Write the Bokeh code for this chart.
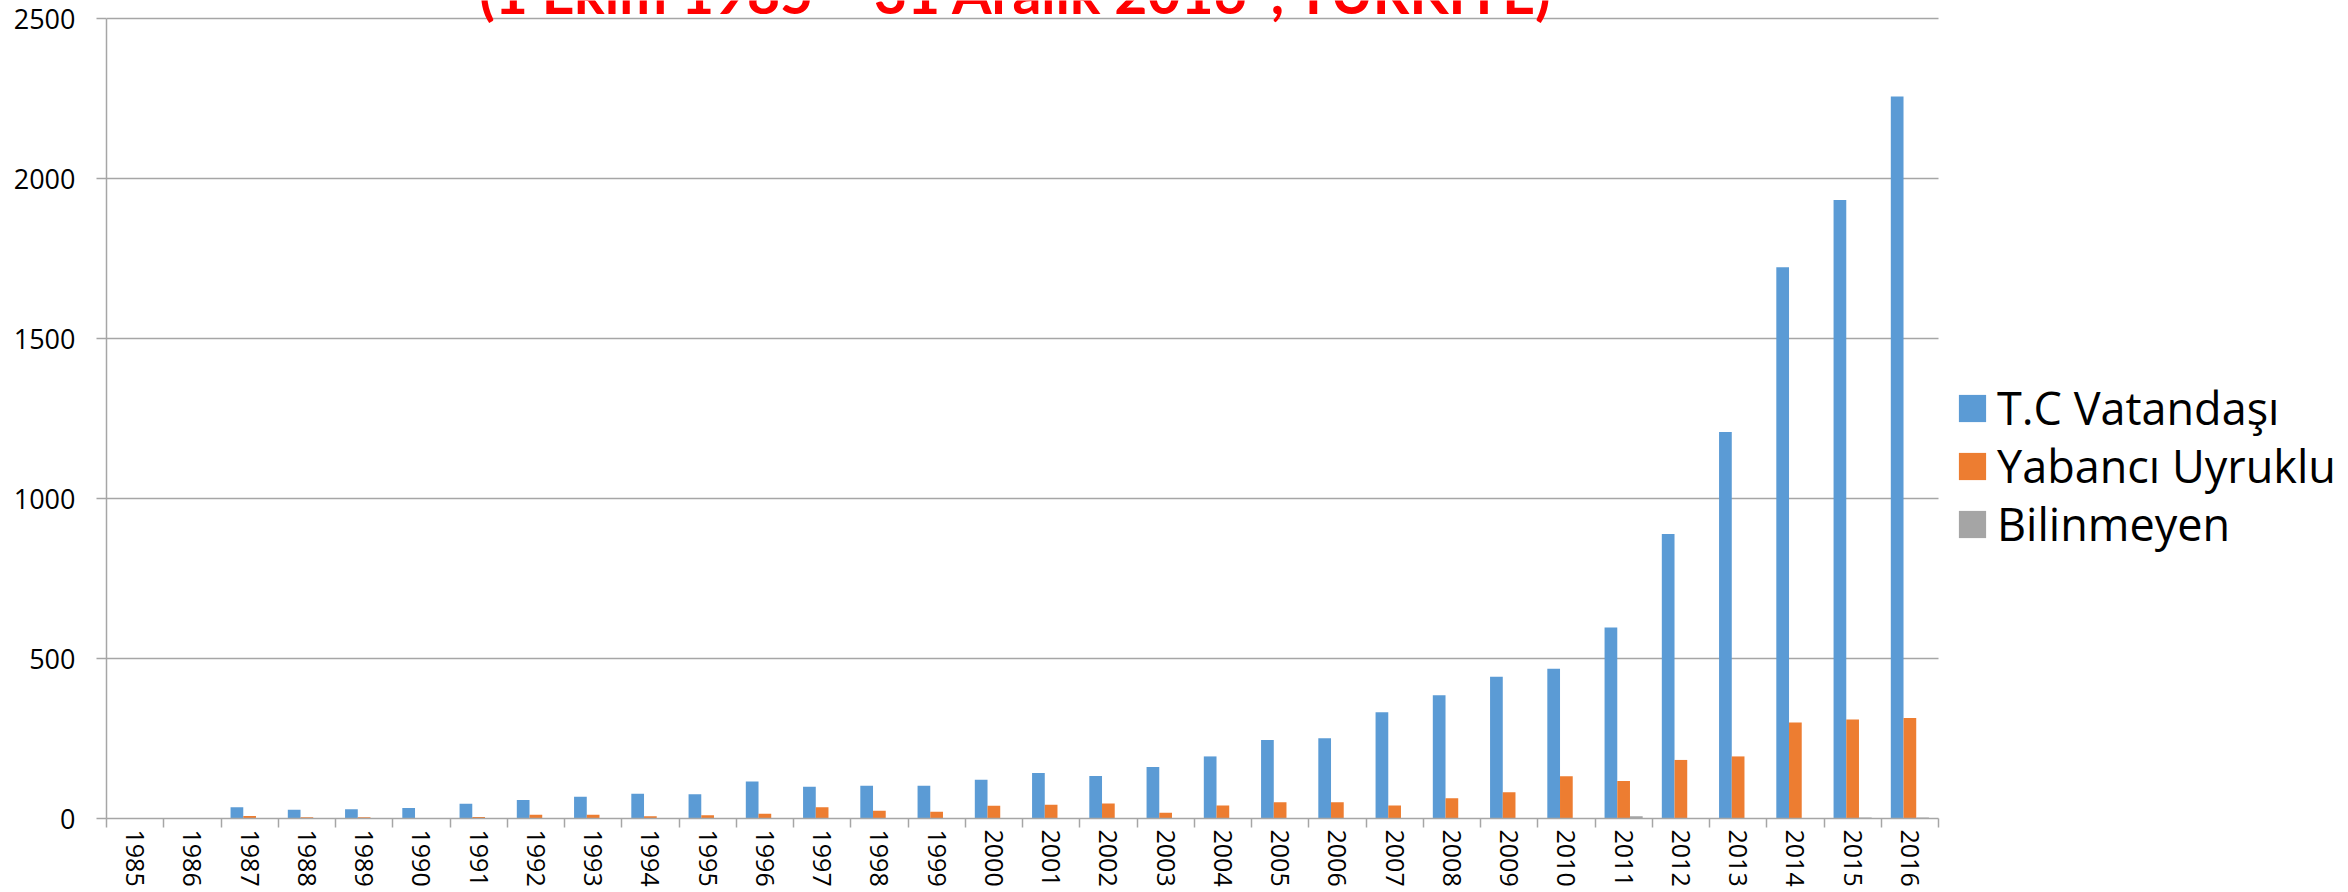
from bokeh.plotting import figure
from bokeh.models import (ColumnDataSource, Range1d, FixedTicker, Legend, LegendItem, Label)
from bokeh.transform import dodge
from bokeh.embed import file_html
from bokeh.resources import INLINE

# ---- data ----
years = [str(y) for y in range(1985, 2017)]
tc_vatandasi = [1, 1, 35, 27, 29, 33, 46, 58, 68, 77, 76, 116, 99, 102, 102, 121,
                142, 133, 161, 194, 245, 251, 332, 385, 443, 468, 597, 889, 1208,
                1723, 1933, 2256]
yabanci = [0, 0, 8, 4, 4, 1, 5, 12, 12, 7, 10, 15, 35, 24, 21, 40,
           43, 47, 18, 41, 51, 51, 41, 63, 82, 132, 117, 183, 194,
           300, 309, 314]
bilinmeyen = [0, 0, 0, 0, 0, 0, 0, 0, 0, 0, 0, 0, 0, 0, 0, 0,
              0, 0, 1, 0, 0, 0, 0, 0, 0, 0, 7, 0, 0,
              0, 3, 3]
y_ticks = [0, 500, 1000, 1500, 2000, 2500]
series_names = ["T.C Vatandaşı", "Yabancı Uyruklu", "Bilinmeyen"]
series_colors = ["#5B9BD5", "#ED7D31", "#A5A5A5"]
title_text = "(1 Ekim 1985 – 31 Aralık 2016*, TÜRKİYE)"

n = len(years)
y_max = y_ticks[-1]
centers = [i + 0.5 for i in range(n)]
source = ColumnDataSource(dict(x=centers, years=years, tc=tc_vatandasi,
                               yab=yabanci, bil=bilinmeyen))

# layout (pixels)
W, H = 2348, 892
LEFT, BOTTOM = 106, 74
AXIS_LEN_X, AXIS_LEN_Y = 1832, 800
x_end = n * (W - LEFT) / AXIS_LEN_X
y_end = y_max * (H - BOTTOM) / AXIS_LEN_Y

p = figure(width=W, height=H, output_backend="svg", toolbar_location=None,
           x_range=Range1d(0, x_end), y_range=Range1d(0, y_end),
           min_border_left=LEFT, min_border_top=0, min_border_bottom=BOTTOM,
           min_border_right=0)
p.outline_line_color = None
p.background_fill_color = "white"
p.border_fill_color = "white"

axis_col = "#A6A6A6"
font = "Open Sans"

# horizontal gridlines, limited to the plot area
grid_vals = y_ticks[1:]
p.segment(x0=[0] * len(grid_vals), x1=[n] * len(grid_vals), y0=grid_vals, y1=grid_vals,
          line_color=axis_col, line_width=1.5)

bw = 0.222
r1 = p.vbar(x=dodge("x", -bw, range=p.x_range), top="tc", width=bw, source=source,
            fill_color=series_colors[0], line_color=None)
r2 = p.vbar(x=dodge("x", 0, range=p.x_range), top="yab", width=bw, source=source,
            fill_color=series_colors[1], line_color=None)
r3 = p.vbar(x=dodge("x", bw, range=p.x_range), top="bil", width=bw, source=source,
            fill_color=series_colors[2], line_color=None)

# x axis
p.xaxis.bounds = (0, n)
p.xaxis.ticker = FixedTicker(ticks=centers, minor_ticks=list(range(n + 1)))
p.xaxis.major_label_overrides = {c: y for c, y in zip(centers, years)}
p.xaxis.major_label_orientation = "vertical"
p.xaxis.major_tick_line_color = None
p.xaxis.major_tick_out = 9
p.xaxis.major_tick_in = 0
p.xaxis.minor_tick_out = 9
p.xaxis.minor_tick_in = 0
p.xaxis.minor_tick_line_color = axis_col
p.xaxis.minor_tick_line_width = 1.5
p.xaxis.axis_line_color = axis_col
p.xaxis.axis_line_width = 1.5
p.xaxis.major_label_text_font = font
p.xaxis.major_label_text_font_size = "25px"
p.xaxis.major_label_text_color = "black"
p.xaxis.major_label_standoff = 2

# y axis
p.yaxis.bounds = (0, y_max)
p.yaxis.ticker = FixedTicker(ticks=y_ticks)
p.yaxis.axis_line_color = axis_col
p.yaxis.axis_line_width = 1.5
p.yaxis.major_tick_line_color = axis_col
p.yaxis.major_tick_line_width = 1.5
p.yaxis.major_tick_out = 10
p.yaxis.major_tick_in = 0
p.yaxis.minor_tick_line_color = None
p.yaxis.major_label_text_font = font
p.yaxis.major_label_text_font_size = "27px"
p.yaxis.major_label_text_color = "black"
p.yaxis.major_label_standoff = 21

p.xgrid.grid_line_color = None
p.ygrid.grid_line_color = None

# legend: one row per series, rows 58px apart
row_offsets = [380, 322, 264]
for name, rend, off in zip(series_names, [r1, r2, r3], row_offsets):
    lg = Legend(items=[LegendItem(label=name, renderers=[rend])], location=(1849, off))
    lg.glyph_width = 34
    lg.glyph_height = 34
    lg.label_standoff = 8
    lg.label_text_font = font
    lg.label_text_font_size = "45px"
    lg.label_text_color = "black"
    lg.padding = 0
    lg.margin = 0
    lg.border_line_color = None
    lg.background_fill_alpha = 0
    p.add_layout(lg)

title = Label(x=15.9, y=y_max + 83, text=title_text,
              text_align="center", text_baseline="alphabetic", text_font="Lato",
              text_font_style="bold", text_font_size="57px", text_color="#FF0000")
p.add_layout(title)

open("out.html", "w").write(file_html(p, INLINE))
